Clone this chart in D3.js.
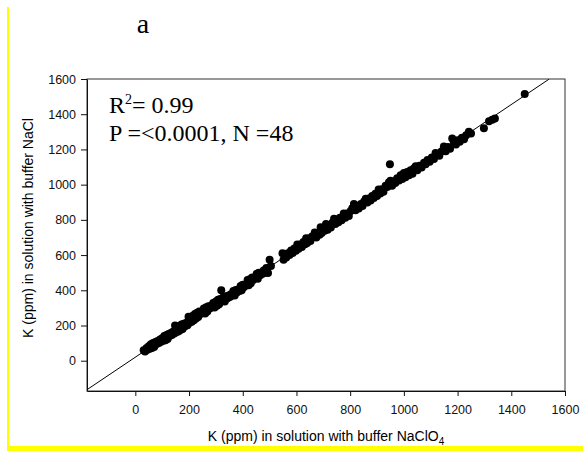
<!DOCTYPE html>
<html lang="en">
<head>
<meta charset="utf-8">
<title>K in NaCl vs NaClO4 buffer</title>
<script src="https://d3js.org/d3.v7.min.js"></script>
<style>
  body { margin: 0; background: #fff; }
  svg { display: block; }
</style>
</head>
<body>
<svg id="chart" width="583" height="451"></svg>
<script>
// K (ppm): x = buffer NaClO4, y = buffer NaCl
var kNaClO4 = [31,36,42,45,50,54,58,62,66,70,75,78,83,88,92,96,100,104,108,112,116,120,124,128,132,136,140,145,148,152,156,160,164,168,172,176,180,185,190,194,198,202,206,210,214,218,222,226,230,234,238,242,246,250,255,260,264,268,272,277,282,286,290,295,300,304,308,312,316,320,324,328,333,338,342,347,352,356,360,365,370,374,378,383,388,392,396,400,405,410,414,418,422,426,430,435,440,444,448,452,456,460,465,470,474,478,482,488,494,500,505,548,552,556,562,568,574,580,586,592,598,603,608,614,620,626,632,636,640,646,652,658,664,668,674,680,686,690,694,700,705,710,716,722,728,734,740,745,750,756,762,768,776,782,788,795,802,808,814,820,826,832,840,846,852,858,864,870,876,882,888,894,900,906,912,918,924,932,938,944,948,950,956,962,968,975,982,988,994,1000,1006,1012,1019,1025,1032,1037,1044,1050,1058,1066,1075,1081,1088,1096,1104,1112,1118,1124,1132,1140,1149,1156,1164,1172,1180,1186,1194,1200,1208,1216,1224,1232,1242,1250,1298,1317,1329,1339,1450];
var kNaCl   = [60,52,72,62,82,68,94,72,100,78,106,94,112,100,120,108,128,114,140,116,146,124,152,140,158,146,164,154,200,162,188,166,196,174,206,180,210,196,216,202,250,216,232,222,256,230,266,240,272,248,280,266,278,270,296,268,304,280,310,296,312,304,328,302,336,312,346,320,350,400,338,362,336,366,354,370,362,378,370,396,370,402,388,404,396,424,400,432,418,432,430,458,428,462,440,472,460,468,470,494,466,500,486,498,494,512,500,526,498,574,538,610,574,606,586,610,600,626,612,638,624,660,636,660,646,674,662,696,668,694,680,706,702,728,700,726,716,758,726,750,738,776,744,770,756,784,806,776,800,786,812,798,836,812,836,822,850,866,890,854,878,864,890,878,904,920,898,922,910,936,924,948,936,972,950,974,960,994,986,1012,1116,1022,994,1018,1010,1036,1024,1054,1032,1066,1042,1072,1054,1082,1062,1092,1104,1082,1108,1098,1124,1116,1140,1130,1154,1146,1180,1170,1164,1188,1216,1190,1214,1204,1262,1238,1228,1252,1244,1266,1258,1280,1300,1290,1320,1360,1368,1375,1515];

// regression line
var fitIntercept = 20;
var fitSlope = 1.025;

var xTicks = [0, 200, 400, 600, 800, 1000, 1200, 1400, 1600];
var yTicks = [0, 200, 400, 600, 800, 1000, 1200, 1400, 1600];

var svg = d3.select("#chart");
var plotL = 87, plotR = 565, plotT = 79, plotB = 391;

var x = d3.scaleLinear().domain([-180, 1600]).range([plotL, plotR]);
var y = d3.scaleLinear().domain([-172, 1600]).range([plotB, plotT]);

// yellow frame marks of the original page
svg.append("rect").attr("x", 7).attr("y", 7).attr("width", 2).attr("height", 444).attr("fill", "#ffff00");
svg.append("rect").attr("x", 7).attr("y", 446).attr("width", 576).attr("height", 5).attr("fill", "#ffff00");

svg.append("defs").append("clipPath").attr("id", "plot")
  .append("rect").attr("x", plotL).attr("y", plotT).attr("width", plotR - plotL).attr("height", plotB - plotT);

// fit line
var x0 = -180, x1 = (1600 - fitIntercept) / fitSlope;
svg.append("line")
  .attr("clip-path", "url(#plot)")
  .attr("x1", x(x0)).attr("y1", y(fitIntercept + fitSlope * x0))
  .attr("x2", x(x1)).attr("y2", y(fitIntercept + fitSlope * x1))
  .attr("stroke", "#000").attr("stroke-width", 1);

// points
svg.append("g").selectAll("circle")
  .data(d3.zip(kNaClO4, kNaCl))
  .join("circle")
  .attr("cx", function(d){ return x(d[0]); })
  .attr("cy", function(d){ return y(d[1]); })
  .attr("r", 4)
  .attr("fill", "#000");

// frame
svg.append("rect")
  .attr("x", plotL).attr("y", plotT).attr("width", plotR - plotL).attr("height", plotB - plotT)
  .attr("fill", "none").attr("stroke", "#333").attr("stroke-width", 1);

var xAxis = svg.append("g")
  .attr("transform", "translate(0," + plotB + ")")
  .call(d3.axisBottom(x).tickValues(xTicks).tickFormat(d3.format("d")).tickSize(5).tickPadding(9).tickSizeOuter(0));
var yAxis = svg.append("g")
  .attr("transform", "translate(" + plotL + ",0)")
  .call(d3.axisLeft(y).tickValues(yTicks).tickFormat(d3.format("d")).tickSize(6).tickPadding(5).tickSizeOuter(0));

[xAxis, yAxis].forEach(function(g){
  g.select(".domain").attr("stroke", "#111");
  g.selectAll(".tick line").attr("stroke", "#111");
  g.selectAll(".tick text").attr("fill", "#111")
    .style("font-family", "'Liberation Sans', Arial, sans-serif").style("font-size", "12.5px");
});

// axis titles
svg.append("text")
  .attr("transform", "translate(33,228) rotate(-90)")
  .attr("text-anchor", "middle")
  .style("font-family", "'Liberation Sans', Arial, sans-serif").style("font-size", "14px")
  .text("K (ppm) in solution with buffer NaCl");

var xt = svg.append("text")
  .attr("x", (plotL + plotR) / 2).attr("y", 441)
  .attr("text-anchor", "middle")
  .style("font-family", "'Liberation Sans', Arial, sans-serif").style("font-size", "14px");
xt.append("tspan").text("K (ppm) in solution with buffer NaClO");
xt.append("tspan").attr("dy", 4).style("font-size", "10px").text("4");

// panel letter
svg.append("text")
  .attr("x", 143).attr("y", 33).attr("text-anchor", "middle")
  .style("font-family", "'Liberation Serif', 'Times New Roman', serif").style("font-size", "28px")
  .text("a");

// statistics
var serif = "'Liberation Serif', 'Times New Roman', serif";
var r2 = svg.append("text").attr("x", 109).attr("y", 113)
  .style("font-family", serif).style("font-size", "24px");
r2.append("tspan").text("R");
r2.append("tspan").attr("dy", -9).style("font-size", "14px").text("2");
r2.append("tspan").attr("dy", 9).text("= 0.99");

svg.append("text").attr("x", 109).attr("y", 141)
  .style("font-family", serif).style("font-size", "24px")
  .text("P =<0.0001, N =48");
</script>
</body>
</html>
